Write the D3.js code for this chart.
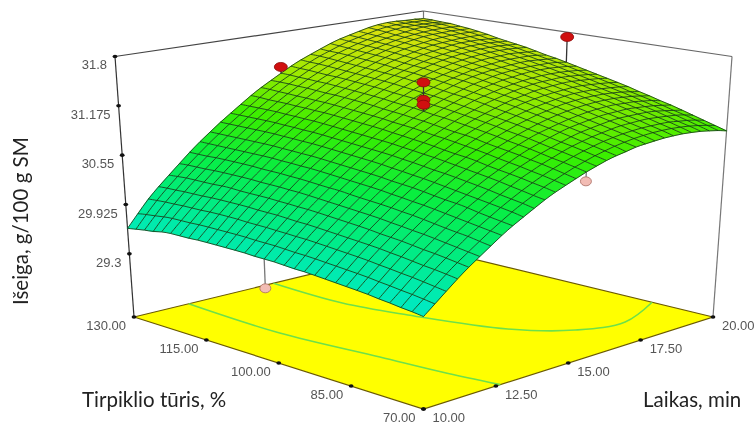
<!DOCTYPE html>
<html lang="lt">
<head>
    <meta charset="UTF-8">
    <title>Išeiga</title>
    <style>
        html, body { margin: 0; padding: 0; background: #fff; }
        svg { display: block; filter: blur(0.35px); }
    </style>
</head>
<body>
<script src="https://d3js.org/d3.v7.min.js"></script>
<script>
    // axis ticks
    var laikasTicks = [10, 12.5, 15, 17.5, 20];
    var tirpiklisTicks = [130, 115, 100, 85, 70];
    var iseigaTicks = [31.8, 31.175, 30.55, 29.925, 29.3];

    // surface grid: rows follow tirpiklisGrid, columns follow laikasGrid
    var laikasGrid = d3.range(31).map(function(i) { return 10 + i / 3; });
    var tirpiklisGrid = d3.range(31).map(function(i) { return 70 + i * 2; });
    var surface = [
        [29.60,29.71,29.82,29.93,30.03,30.12,30.21,30.30,30.38,30.45,30.52,30.59,30.65,30.70,30.75,30.80,30.84,30.88,30.91,30.93,30.96,30.97,30.98,30.99,30.99,30.99,30.98,30.97,30.95,30.93,30.90],
        [29.62,29.73,29.84,29.95,30.05,30.14,30.23,30.32,30.40,30.48,30.55,30.61,30.68,30.73,30.78,30.83,30.87,30.91,30.94,30.97,30.99,31.01,31.02,31.03,31.03,31.03,31.02,31.01,30.99,30.97,30.94],
        [29.63,29.75,29.86,29.97,30.07,30.16,30.26,30.34,30.42,30.50,30.57,30.64,30.70,30.76,30.81,30.86,30.90,30.94,30.97,31.00,31.02,31.04,31.05,31.06,31.06,31.06,31.06,31.04,31.03,31.01,30.98],
        [29.65,29.76,29.88,29.98,30.09,30.18,30.27,30.36,30.44,30.52,30.59,30.66,30.73,30.78,30.84,30.88,30.93,30.97,31.00,31.03,31.05,31.07,31.09,31.09,31.10,31.10,31.09,31.08,31.07,31.05,31.02],
        [29.66,29.78,29.89,30.00,30.10,30.20,30.29,30.38,30.47,30.54,30.62,30.69,30.75,30.81,30.86,30.91,30.95,30.99,31.03,31.06,31.08,31.10,31.12,31.13,31.13,31.13,31.13,31.12,31.10,31.08,31.06],
        [29.68,29.79,29.91,30.02,30.12,30.22,30.31,30.40,30.49,30.56,30.64,30.71,30.77,30.83,30.89,30.94,30.98,31.02,31.06,31.09,31.11,31.13,31.15,31.16,31.16,31.17,31.16,31.15,31.14,31.12,31.10],
        [29.69,29.81,29.92,30.03,30.14,30.23,30.33,30.42,30.50,30.58,30.66,30.73,30.79,30.85,30.91,30.96,31.01,31.05,31.08,31.11,31.14,31.16,31.18,31.19,31.20,31.20,31.19,31.19,31.17,31.16,31.13],
        [29.70,29.82,29.94,30.05,30.15,30.25,30.35,30.44,30.52,30.60,30.68,30.75,30.82,30.88,30.93,30.98,31.03,31.07,31.11,31.14,31.17,31.19,31.21,31.22,31.23,31.23,31.23,31.22,31.21,31.19,31.17],
        [29.71,29.83,29.95,30.06,30.16,30.26,30.36,30.45,30.54,30.62,30.70,30.77,30.84,30.90,30.95,31.01,31.05,31.10,31.13,31.17,31.19,31.22,31.24,31.25,31.26,31.26,31.26,31.25,31.24,31.22,31.20],
        [29.72,29.84,29.96,30.07,30.18,30.28,30.38,30.47,30.56,30.64,30.71,30.79,30.85,30.92,30.98,31.03,31.08,31.12,31.16,31.19,31.22,31.24,31.26,31.28,31.29,31.29,31.29,31.28,31.27,31.26,31.24],
        [29.73,29.85,29.97,30.08,30.19,30.29,30.39,30.48,30.57,30.65,30.73,30.81,30.87,30.94,31.00,31.05,31.10,31.14,31.18,31.22,31.25,31.27,31.29,31.30,31.31,31.32,31.32,31.31,31.30,31.29,31.27],
        [29.74,29.86,29.98,30.09,30.20,30.30,30.40,30.50,30.58,30.67,30.75,30.82,30.89,30.96,31.01,31.07,31.12,31.16,31.20,31.24,31.27,31.29,31.32,31.33,31.34,31.35,31.35,31.34,31.33,31.32,31.30],
        [29.74,29.87,29.99,30.10,30.21,30.31,30.41,30.51,30.60,30.68,30.76,30.84,30.91,30.97,31.03,31.09,31.14,31.18,31.23,31.26,31.29,31.32,31.34,31.36,31.37,31.37,31.38,31.37,31.36,31.35,31.33],
        [29.75,29.87,30.00,30.11,30.22,30.32,30.42,30.52,30.61,30.70,30.78,30.85,30.92,30.99,31.05,31.11,31.16,31.20,31.25,31.28,31.31,31.34,31.36,31.38,31.39,31.40,31.40,31.40,31.39,31.38,31.36],
        [29.76,29.88,30.00,30.12,30.23,30.33,30.44,30.53,30.62,30.71,30.79,30.87,30.94,31.01,31.07,31.12,31.18,31.22,31.27,31.30,31.34,31.36,31.39,31.40,31.42,31.43,31.43,31.43,31.42,31.41,31.39],
        [29.76,29.89,30.01,30.12,30.24,30.34,30.44,30.54,30.63,30.72,30.80,30.88,30.95,31.02,31.08,31.14,31.19,31.24,31.28,31.32,31.36,31.38,31.41,31.43,31.44,31.45,31.45,31.45,31.45,31.44,31.42],
        [29.76,29.89,30.01,30.13,30.24,30.35,30.45,30.55,30.64,30.73,30.81,30.89,30.97,31.03,31.10,31.16,31.21,31.26,31.30,31.34,31.38,31.41,31.43,31.45,31.46,31.47,31.48,31.48,31.47,31.46,31.45],
        [29.77,29.89,30.02,30.14,30.25,30.36,30.46,30.56,30.65,30.74,30.82,30.90,30.98,31.05,31.11,31.17,31.23,31.27,31.32,31.36,31.39,31.42,31.45,31.47,31.48,31.50,31.50,31.50,31.50,31.49,31.47],
        [29.77,29.90,30.02,30.14,30.25,30.36,30.47,30.57,30.66,30.75,30.83,30.91,30.99,31.06,31.12,31.18,31.24,31.29,31.34,31.38,31.41,31.44,31.47,31.49,31.51,31.52,31.52,31.53,31.52,31.51,31.50],
        [29.77,29.90,30.02,30.14,30.26,30.37,30.47,30.57,30.67,30.76,30.84,30.92,31.00,31.07,31.14,31.20,31.25,31.30,31.35,31.39,31.43,31.46,31.49,31.51,31.53,31.54,31.55,31.55,31.55,31.54,31.53],
        [29.77,29.90,30.03,30.15,30.26,30.37,30.48,30.58,30.67,30.77,30.85,30.93,31.01,31.08,31.15,31.21,31.27,31.32,31.37,31.41,31.45,31.48,31.51,31.53,31.55,31.56,31.57,31.57,31.57,31.56,31.55],
        [29.77,29.90,30.03,30.15,30.26,30.37,30.48,30.58,30.68,30.77,30.86,30.94,31.02,31.09,31.16,31.22,31.28,31.33,31.38,31.42,31.46,31.49,31.52,31.54,31.56,31.58,31.59,31.59,31.59,31.58,31.57],
        [29.77,29.90,30.03,30.15,30.26,30.38,30.48,30.59,30.68,30.78,30.86,30.95,31.03,31.10,31.17,31.23,31.29,31.34,31.39,31.43,31.47,31.51,31.54,31.56,31.58,31.60,31.61,31.61,31.61,31.60,31.59],
        [29.76,29.90,30.03,30.15,30.27,30.38,30.49,30.59,30.69,30.78,30.87,30.95,31.03,31.11,31.18,31.24,31.30,31.35,31.40,31.45,31.49,31.52,31.55,31.58,31.60,31.61,31.62,31.63,31.63,31.63,31.62],
        [29.76,29.89,30.02,30.15,30.27,30.38,30.49,30.59,30.69,30.79,30.87,30.96,31.04,31.11,31.18,31.25,31.31,31.36,31.41,31.46,31.50,31.54,31.57,31.59,31.61,31.63,31.64,31.65,31.65,31.65,31.64],
        [29.76,29.89,30.02,30.14,30.26,30.38,30.49,30.59,30.69,30.79,30.88,30.96,31.04,31.12,31.19,31.26,31.32,31.37,31.42,31.47,31.51,31.55,31.58,31.61,31.63,31.65,31.66,31.66,31.67,31.66,31.66],
        [29.75,29.89,30.02,30.14,30.26,30.38,30.49,30.59,30.69,30.79,30.88,30.97,31.05,31.12,31.20,31.26,31.32,31.38,31.43,31.48,31.52,31.56,31.59,31.62,31.64,31.66,31.67,31.68,31.68,31.68,31.67],
        [29.72,29.88,30.01,30.14,30.26,30.37,30.49,30.59,30.69,30.79,30.88,30.97,31.05,31.13,31.20,31.27,31.33,31.39,31.44,31.49,31.53,31.57,31.60,31.63,31.65,31.67,31.69,31.70,31.70,31.70,31.69],
        [29.71,29.86,30.01,30.13,30.26,30.37,30.48,30.59,30.69,30.79,30.88,30.97,31.05,31.13,31.21,31.27,31.34,31.40,31.45,31.50,31.54,31.58,31.61,31.64,31.67,31.69,31.70,31.70,31.70,31.70,31.69],
        [29.69,29.85,30.00,30.13,30.25,30.37,30.48,30.59,30.69,30.79,30.88,30.97,31.06,31.14,31.21,31.28,31.34,31.40,31.46,31.50,31.55,31.59,31.62,31.65,31.68,31.70,31.71,31.71,31.71,31.71,31.70],
        [29.67,29.83,29.99,30.12,30.24,30.36,30.48,30.59,30.69,30.79,30.88,30.97,31.06,31.14,31.21,31.28,31.35,31.41,31.46,31.51,31.56,31.60,31.63,31.66,31.69,31.71,31.72,31.72,31.71,31.71,31.70]
    ];

    // design points
    var runLaikas = [15, 20, 15, 15, 15, 10, 15];
    var runTirpiklis = [130, 100, 100, 100, 100, 100, 70];
    var runIseiga = [31.36, 31.74, 31.49, 31.28, 31.22, 29.40, 30.69];

    // contours on the floor
    var contourALaikas = [11.7, 11.6, 11.94, 12.13, 12.38];
    var contourATirpiklis = [130, 108.6, 90.1, 79.3, 70];
    var contourBLaikas = [14.5, 14.46, 14.86, 15.69, 16.76, 18.14, 20];
    var contourBTirpiklis = [130, 114, 102.4, 87, 79.8, 77.4, 81.4];

    var width = 755, height = 426;
    var zFloor = 28.5, zTop = 31.8;

    var svg = d3.select("body").append("svg")
        .attr("width", width)
        .attr("height", height);

    var lScale = d3.scaleLinear().domain([10, 20]).range([-1, 1]);
    var tScale = d3.scaleLinear().domain([70, 130]).range([-1, 1]);
    var zScale = d3.scaleLinear().domain([zFloor, zTop]).range([0, 1]);

    // perspective projection fitted to the corners of the box
    function project(laikas, tirpiklis, z) {
        var L = lScale(laikas), T = tScale(tirpiklis), t = zScale(z);
        var r = (L - T) / 2, q = (L + T) / 2;
        var w = 1 + 0.1358 * q - 0.0616 * t;
        return [
            423.5 + 289.5 * r / w,
            (317 - 36.5 * q - 264 * t - 4.7 * q * t) / w
        ];
    }

    // the picture spaces its ticks evenly along each edge, so they run linear between corners
    function edgeScale(domain, a, b) {
        var s = d3.scaleLinear().domain(domain).range([0, 1]);
        return function(v) { return [a[0] + (b[0] - a[0]) * s(v), a[1] + (b[1] - a[1]) * s(v)]; };
    }
    var iseigaEdge = edgeScale([zTop, zFloor], project(10, 130, zTop), project(10, 130, zFloor));
    var tirpiklisEdge = edgeScale([130, 70], project(10, 130, zFloor), project(10, 70, zFloor));
    var laikasEdge = edgeScale([10, 20], project(10, 70, zFloor), project(20, 70, zFloor));

    var color = d3.scaleLinear()
        .domain([29.6, 30.0, 30.5, 30.9, 31.3, 31.75])
        .range(["#00eac8", "#00ec90", "#08ee40", "#38ee00", "#9cea00", "#e4e010"]);

    var line = d3.line();
    function outline(points) { return line(points) + "Z"; }

    // floor
    svg.append("path")
        .attr("d", outline([
            project(10, 130, zFloor), project(10, 70, zFloor),
            project(20, 70, zFloor), project(20, 130, zFloor)
        ]))
        .attr("fill", "#ffff00")
        .attr("stroke", "#6b5a00")
        .attr("stroke-width", 1.2);

    // contours
    var contourLine = d3.line().curve(d3.curveCatmullRom);
    [[contourALaikas, contourATirpiklis], [contourBLaikas, contourBTirpiklis]].forEach(function(c) {
        svg.append("path")
            .attr("d", contourLine(c[0].map(function(l, i) { return project(l, c[1][i], zFloor); })))
            .attr("fill", "none")
            .attr("stroke", "#6ee04a")
            .attr("stroke-width", 1.6);
    });

    // frame
    var frame = [
        [[10, 130, zFloor], [10, 130, zTop], "#333"],
        [[20, 70, zFloor], [20, 70, zTop], "#777"],
        [[20, 130, zFloor], [20, 130, zTop], "#777"],
        [[10, 130, zTop], [20, 130, zTop], "#444"],
        [[20, 130, zTop], [20, 70, zTop], "#666"]
    ];
    frame.forEach(function(f) {
        var a = project(f[0][0], f[0][1], f[0][2]), b = project(f[1][0], f[1][1], f[1][2]);
        svg.append("line")
            .attr("x1", a[0]).attr("y1", a[1])
            .attr("x2", b[0]).attr("y2", b[1])
            .attr("stroke", f[2])
            .attr("stroke-width", 1.2);
    });

    function surfaceAt(laikas, tirpiklis) {
        return surface[tirpiklisGrid.indexOf(tirpiklis)][Math.round((laikas - 10) * 3)];
    }

    var runs = runLaikas.map(function(l, i) {
        return {laikas: l, tirpiklis: runTirpiklis[i], z: runIseiga[i], below: runIseiga[i] < surfaceAt(l, runTirpiklis[i])};
    });

    function drawRuns(list) {
        var g = svg.append("g");
        g.selectAll("line").data(list).enter().append("line")
            .attr("x1", function(d) { return project(d.laikas, d.tirpiklis, d.z)[0]; })
            .attr("y1", function(d) { return project(d.laikas, d.tirpiklis, d.z)[1]; })
            .attr("x2", function(d) { return project(d.laikas, d.tirpiklis, surfaceAt(d.laikas, d.tirpiklis))[0]; })
            .attr("y2", function(d) { return project(d.laikas, d.tirpiklis, surfaceAt(d.laikas, d.tirpiklis))[1]; })
            .attr("stroke", function(d) { return d.below ? "#777" : "#333"; })
            .attr("stroke-width", 1.3);
        g.selectAll("ellipse").data(list).enter().append("ellipse")
            .attr("cx", function(d) { return project(d.laikas, d.tirpiklis, d.z)[0]; })
            .attr("cy", function(d) { return project(d.laikas, d.tirpiklis, d.z)[1]; })
            .attr("rx", function(d) { return d.below ? 5.5 : 6.5; })
            .attr("ry", 4.5)
            .attr("fill", function(d) { return d.below ? "#f2bcb4" : "#d01010"; })
            .attr("stroke", function(d) { return d.below ? "#a86a60" : "#8a0808"; })
            .attr("stroke-width", 0.8);
    }

    // points under the surface go behind it
    drawRuns(runs.filter(function(d) { return d.below; }));

    // surface cells, back to front
    var cells = [];
    for (var j = 0; j < tirpiklisGrid.length - 1; j++) {
        for (var i = 0; i < laikasGrid.length - 1; i++) {
            cells.push({i: i, j: j, depth: i + j});
        }
    }
    cells.sort(function(a, b) { return b.depth - a.depth; });

    function cellColor(c) {
        return color(d3.mean([surface[c.j][c.i], surface[c.j][c.i + 1], surface[c.j + 1][c.i], surface[c.j + 1][c.i + 1]]));
    }

    svg.append("g").selectAll("path").data(cells).enter().append("path")
        .attr("d", function(c) {
            return outline([[c.i, c.j], [c.i + 1, c.j], [c.i + 1, c.j + 1], [c.i, c.j + 1]].map(function(p) {
                return project(laikasGrid[p[0]], tirpiklisGrid[p[1]], surface[p[1]][p[0]]);
            }));
        })
        .attr("fill", cellColor)
        .attr("stroke", cellColor)
        .attr("stroke-width", 0.5);

    // mesh lines
    var meshLine = d3.line().curve(d3.curveBasis);
    var mesh = svg.append("g")
        .attr("fill", "none")
        .attr("stroke", "#143c14")
        .attr("stroke-opacity", 0.85)
        .attr("stroke-width", 1);
    tirpiklisGrid.forEach(function(tv, j) {
        mesh.append("path").attr("d", meshLine(laikasGrid.map(function(lv, i) {
            return project(lv, tv, surface[j][i]);
        })));
    });
    laikasGrid.forEach(function(lv, i) {
        mesh.append("path").attr("d", meshLine(tirpiklisGrid.map(function(tv, j) {
            return project(lv, tv, surface[j][i]);
        })));
    });

    drawRuns(runs.filter(function(d) { return !d.below; }));

    // tick marks and labels
    var labelFont = "Liberation Sans, Arial, sans-serif";
    function addTick(p, label, dx, dy, anchor) {
        svg.append("ellipse").attr("cx", p[0]).attr("cy", p[1]).attr("rx", 2.4).attr("ry", 1.8).attr("fill", "#111");
        svg.append("text")
            .attr("x", p[0] + dx).attr("y", p[1] + dy)
            .attr("text-anchor", anchor)
            .attr("font-family", labelFont)
            .attr("font-size", 13)
            .attr("fill", "#555")
            .text(label);
    }
    iseigaTicks.forEach(function(v) {
        addTick(iseigaEdge(v), String(v), -8, 13, "end");
    });
    tirpiklisTicks.forEach(function(v) {
        addTick(tirpiklisEdge(v), v.toFixed(2), -8, 13, "end");
    });
    laikasTicks.forEach(function(v) {
        addTick(laikasEdge(v), v.toFixed(2), 9, 13, "start");
    });

    // axis titles
    var titleFont = "Lato, Carlito, sans-serif";
    svg.append("text").attr("x", 82).attr("y", 407)
        .attr("font-family", titleFont).attr("font-size", 20.5).attr("fill", "#222")
        .text("Tirpiklio tūris, %");
    svg.append("text").attr("x", 643).attr("y", 407)
        .attr("font-family", titleFont).attr("font-size", 20.5).attr("fill", "#222")
        .text("Laikas, min");
    svg.append("text")
        .attr("transform", "translate(28,305) rotate(-90)")
        .attr("font-family", titleFont).attr("font-size", 20.5).attr("fill", "#222")
        .text("Išeiga, g/100 g SM");
</script>
</body>
</html>
